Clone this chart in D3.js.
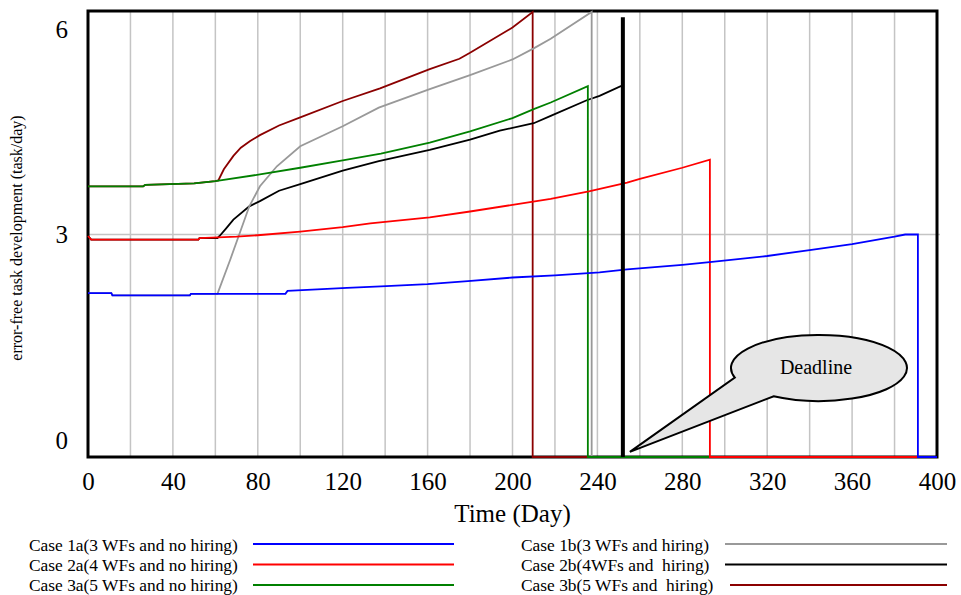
<!DOCTYPE html>
<html>
<head>
<meta charset="utf-8">
<script src="https://cdn.jsdelivr.net/npm/d3@7"></script>
<style>
  body { margin: 0; background: #fff; }
  svg { display: block; font-family: "Liberation Serif", "DejaVu Serif", serif; }
</style>
</head>
<body>
<div id="chart"></div>
<script>
// values, [day, task/day]
const case1a = [[0,2.21],[11,2.21],[11.5,2.18],[48,2.18],[48.5,2.20],[93,2.20],[94,2.24],[108,2.26],[122,2.28],[138,2.30],[160,2.33],[179,2.37],[200,2.42],[220,2.45],[241,2.49],[254,2.53],[280,2.59],[294,2.63],[320,2.71],[340,2.79],[360,2.87],[380,2.97],[385,3.00],[391,3.00],[391,0],[400,0]];
const case2a = [[0,2.98],[1.5,2.93],[52,2.93],[52.5,2.95],[70,2.97],[80,2.99],[100,3.04],[120,3.10],[133,3.15],[161,3.23],[180,3.31],[200,3.40],[218,3.48],[236,3.58],[254,3.70],[260,3.75],[280,3.90],[293,4.01],[293,0],[400,0]];
const case3a = [[0,3.65],[26,3.65],[27,3.67],[50,3.69],[60,3.72],[81,3.81],[100,3.90],[120,4.00],[138,4.09],[161,4.24],[180,4.39],[200,4.57],[210,4.69],[218,4.78],[235.5,5.00],[235.5,0],[400,0]];
const case1b = [[0,2.21],[11,2.21],[11.5,2.18],[48,2.18],[48.5,2.20],[61,2.20],[67,2.66],[71,2.98],[76,3.38],[81,3.65],[89,3.92],[100,4.19],[120,4.46],[137,4.71],[161,4.96],[180,5.15],[200,5.36],[210,5.51],[218,5.64],[237.3,6.00],[237.3,0],[400,0]];
const case2b = [[0,2.98],[1.5,2.93],[52,2.93],[52.5,2.95],[61,2.95],[62,2.98],[65,3.08],[68.5,3.20],[76,3.38],[81,3.45],[90,3.59],[100,3.68],[120,3.86],[137,3.99],[161,4.14],[180,4.28],[194,4.40],[210,4.50],[218,4.60],[235,4.81],[241,4.87],[251,5.00],[252,5.00],[252,0],[400,0]];
const case3b = [[0,3.65],[26,3.65],[27,3.67],[50,3.69],[60,3.72],[61.4,3.73],[64,3.88],[68.5,4.06],[72,4.17],[76.4,4.26],[81,4.34],[90,4.47],[100,4.58],[120,4.80],[137.6,4.97],[161,5.23],[175,5.37],[180,5.45],[200,5.79],[209.5,6.00],[209.5,0],[400,0]];

const xTicks = [0,40,80,120,160,200,240,280,320,360,400];
const yTicks = [0,3,6];
const deadline = 252;

// drawn bottom to top
const series = [
  {name: "Case 3b(5 WFs and  hiring)", data: case3b, color: "#8b0000"},
  {name: "Case 2b(4WFs and  hiring)", data: case2b, color: "#000000"},
  {name: "Case 1b(3 WFs and hiring)", data: case1b, color: "#999999"},
  {name: "Case 3a(5 WFs and no hiring)", data: case3a, color: "#008000"},
  {name: "Case 2a(4 WFs and no hiring)", data: case2a, color: "#ff0000"},
  {name: "Case 1a(3 WFs and no hiring)", data: case1a, color: "#0000ff"}
];
const legendLeft = ["Case 1a(3 WFs and no hiring)", "Case 2a(4 WFs and no hiring)", "Case 3a(5 WFs and no hiring)"];
const legendRight = ["Case 1b(3 WFs and hiring)", "Case 2b(4WFs and  hiring)", "Case 3b(5 WFs and  hiring)"];

const width = 961, height = 595;
const plotL = 88, plotR = 937, plotT = 12, plotB = 457;

const svg = d3.select("#chart").append("svg")
    .attr("width", width)
    .attr("height", height);

const x = d3.scaleLinear().domain([0, 400]).range([plotL, plotR]);
const y = d3.scaleLinear().domain([0, 6]).range([plotB, plotT]);

// grid
svg.append("g")
    .selectAll("line")
    .data(d3.range(20, 400, 20))
    .enter()
    .append("line")
    .attr("x1", d => x(d)).attr("x2", d => x(d))
    .attr("y1", plotT).attr("y2", plotB)
    .attr("stroke", "#c4c4c4")
    .attr("stroke-width", 1.5);

svg.append("line")
    .attr("x1", plotL).attr("x2", plotR + 3)
    .attr("y1", y(3)).attr("y2", y(3))
    .attr("stroke", "#c4c4c4")
    .attr("stroke-width", 1.5);

// frame
svg.append("rect")
    .attr("x", plotL).attr("y", plotT - 1)
    .attr("width", plotR - plotL).attr("height", plotB - plotT + 1)
    .attr("fill", "none")
    .attr("stroke", "#000")
    .attr("stroke-width", 3);

// lines
const line = d3.line().x(d => x(d[0])).y(d => y(d[1]));

svg.append("g")
    .selectAll("path")
    .data(series)
    .enter()
    .append("path")
    .attr("d", d => line(d.data))
    .attr("fill", "none")
    .attr("stroke", d => d.color)
    .attr("stroke-width", 1.8)
    .attr("stroke-linejoin", "miter");

// deadline marker
svg.append("line")
    .attr("x1", x(deadline)).attr("x2", x(deadline))
    .attr("y1", y(5.93)).attr("y2", plotB)
    .attr("stroke", "#000")
    .attr("stroke-width", 4);

// callout
const cx = x(344.4), cy = y(1.2), rx = 88, ry = 33;
const a1 = 163 * Math.PI / 180, a2 = 121 * Math.PI / 180;
const p1 = [cx + rx * Math.cos(a1), cy + ry * Math.sin(a1)];
const p2 = [cx + rx * Math.cos(a2), cy + ry * Math.sin(a2)];
const tip = [x(deadline) + 7, y(0.07)];
svg.append("path")
    .attr("d", `M${p1[0]},${p1[1]} A${rx},${ry} 0 1 1 ${p2[0]},${p2[1]} L${tip[0]},${tip[1]} Z`)
    .attr("fill", "#e6e6e6")
    .attr("stroke", "#000")
    .attr("stroke-width", 2);

svg.append("text")
    .attr("x", cx - 3).attr("y", cy + 6)
    .attr("text-anchor", "middle")
    .style("font-size", "20px")
    .text("Deadline");

// axes
const xAxis = svg.append("g")
    .attr("transform", `translate(0,${plotB})`)
    .call(d3.axisBottom(x).tickValues(xTicks).tickSize(0).tickPadding(15));
xAxis.select(".domain").remove();
xAxis.selectAll("text")
    .style("font-family", "Liberation Serif")
    .style("font-size", "25px")
    .attr("fill", "#000");

const yAxis = svg.append("g")
    .attr("transform", `translate(${plotL},0)`)
    .call(d3.axisLeft(y).tickValues(yTicks).tickFormat(d3.format("d")).tickSize(0).tickPadding(20));
yAxis.select(".domain").remove();
yAxis.selectAll("text")
    .style("font-family", "Liberation Serif")
    .style("font-size", "25px")
    .attr("fill", "#000")
    .attr("dy", d => d === 6 ? "1.0em" : d === 0 ? "-0.36em" : "0.32em");

svg.append("text")
    .attr("x", (plotL + plotR) / 2)
    .attr("y", 522)
    .attr("text-anchor", "middle")
    .style("font-size", "25px")
    .text("Time (Day)");

svg.append("text")
    .attr("transform", `translate(22,238) rotate(-90)`)
    .attr("text-anchor", "middle")
    .style("font-size", "16px")
    .text("error-free task development (task/day)");

// legend
const colorOf = name => series.find(s => s.name === name).color;

function legendColumn(labels, tx, lx1, lx2) {
    const g = svg.append("g");
    labels.forEach((label, i) => {
        g.append("text")
            .attr("x", tx)
            .attr("y", 551 + i * 20)
            .style("white-space", "pre")
            .style("font-size", "17.4px")
            .text(label);
        g.append("line")
            .attr("x1", lx1(i)).attr("x2", lx2)
            .attr("y1", 544 + i * 20.5).attr("y2", 544 + i * 20.5)
            .attr("stroke", colorOf(label))
            .attr("stroke-width", 2);
    });
}
legendColumn(legendLeft, 29, () => 253, 454);
legendColumn(legendRight, 521, i => i === 2 ? 730 : 725, 947);
</script>
</body>
</html>
